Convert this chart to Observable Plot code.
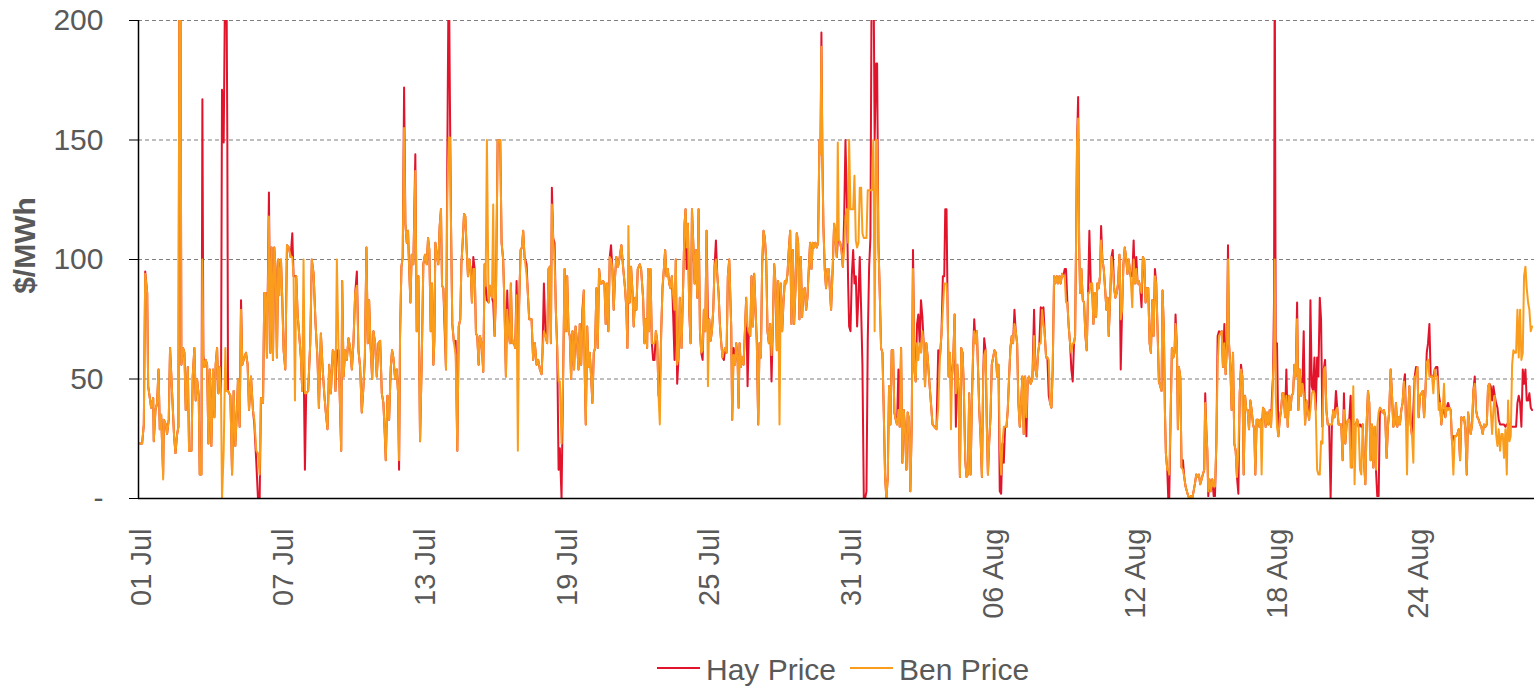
<!DOCTYPE html>
<html>
<head>
<meta charset="utf-8">
<script src="https://cdn.jsdelivr.net/npm/d3@7"></script>
<script src="https://cdn.jsdelivr.net/npm/@observablehq/plot@0.6"></script>
<style>
  html, body { margin: 0; padding: 0; background: #fff; }
  body { width: 1534px; height: 688px; position: relative; overflow: hidden; font-family: "Liberation Sans", Arial, sans-serif; }
  #chart { position: absolute; left: 0; top: 0; }
  #legend { position: absolute; left: 657px; top: 652px; display: flex; align-items: center; font-size: 30px; color: #595959; line-height: 36px; white-space: nowrap; }
  #legend .item { display: flex; align-items: center; margin-right: 14px; }
  #legend .sw { display: inline-block; width: 43px; height: 2px; margin-right: 6px; position: relative; top: -2px; }
</style>
</head>
<body>
<div id="chart"></div>
<div id="legend"></div>
<script>
// ---- Data (hours since 01 Jul 00:00, prices in $/MWh) ----
const startDate = "2019-07-01T00:00:00Z";
const endDate = "2019-08-29T00:00:00Z";
const hours = [
0.3,3.7,5.4,6.8,8.8,9.8,11.5,12.8,14.9,15.5,17.2,18.9,20.3,21.6,23,25,25.7,27.7,29,30.7,32,34.1,35.1,36.1,37.5,39.2,40.5,41.5,42.5,43.5,45.2,46.6,47.9,50,51.3,53.7,55,56.7,58,59.4,61.1,62.1,63.8,64.8,65.8,66.9,68.2,69.6,70.9,72.3,73.9,75.6,77,78.3,79.7,81,82.4,83.7,84.7,86.4,88.1,89.1,90.1,90.8,93.2,94.9,96.5,98.2,99.9,100.9,102.6,104,105.3,107.3,109,110.7,112.1,114.1,116.1,117.5,119.5,121.2,122.9,124.2,126.3,127.6,129,130.3,132.3,133.7,135,136.4,137.7,139.1,140.4,141.8,143.1,144.5,145.8,147.2,148.9,150.6,152.6,154.3,156,157.3,158.7,160,161.4,163.1,164.7,166.1,167.4,168.8,170.1,172.1,174.2,175.8,177.6,179.6,181.6,183,185,186.7,188.4,190,191.7,193.4,195.1,197.1,198.5,199.8,201.2,202.9,
205.6,206.6,208,209.6,211.3,213,214.7,216.4,218,219.8,221.5,223.1,224.8,226.5,228.2,229.6,231.2,232.6,233.9,235.3,237,238.3,240,241.7,243.4,245.1,246.8,248.4,249.8,250.8,252.5,254.2,255.9,257.2,258.5,260.3,262,263.3,264.3,265.3,266.7,268,269.4,270.7,272.1,273.4,274.4,275.8,277.1,278.8,280.8,282.2,283.9,285.6,287.3,288.9,290.6,292.4,293.7,295,296.4,297.7,299.1,300.1,301.1,302.5,304.1,305.5,306.8,307.9,309.2,310.6,311.9,313.2,314.7,315.9,317,318.3,320,321.7,323.4,324.8,326.4,327.5,328.8,330.2,331.5,332.9,334.2,335.5,336.9,338.2,339.6,341,342.3,343.6,345,346.3,348,349.7,351.1,352.1,353.4,355.1,356.5,358.5,359.8,361.2,362.6,364.3,365.6,366.9,368.3,369.9,371.3,372.7,374,375.4,376.7,377.7,379.1,380.4,382.1,383.5,384.8,386.2,387.6,388.9,390.2,391.6,393.6,394.9,396.3,
398.7,400.3,402,403.8,405.4,407.1,408.8,409.8,411.2,412.9,414.5,415.9,417.2,418.3,419.3,420.6,422,423.3,424.7,426.1,427.4,429.1,430.7,432.2,433.5,434.8,436.2,437.5,438.8,440.2,441.8,443.3,444.9,446.3,447.6,449,450.3,451.7,452.7,453.7,455.1,456.4,457.7,459.1,460.4,461.8,463.1,464.5,465.8,467.2,468.6,469.9,471.2,472.6,473.9,475.3,476.6,478,479.3,480.7,482,483.4,484.7,486.4,488.1,489.8,491.5,493.5,494.9,495.9,496.9,498.3,499.6,501,502.3,503.7,505,506.4,508.4,509.8,511.8,513.2,514.5,515.9,516.9,517.9,519.3,520.7,522,523.4,524.8,526.1,527.5,528.8,530.2,531.5,532.9,534.2,535.6,536.9,538.3,539.6,541,542.3,543.7,545,546.4,547.8,549.1,550.8,552.5,553.9,554.9,555.9,557.3,558.6,560,561.4,562.7,564.1,565.4,566.8,568.1,569.5,570.8,572.2,573.5,574.9,576.2,577.6,578.9,580.3,581.6,583,584.3,585.7,587,588.4,589.7,591.1,592.4,593.8,595.1,596.5,597.8,599.2,
601.2,602.2,603.6,605,606.3,607.7,608.7,609.7,611,612.4,613.7,615.1,616.4,617.8,619.1,620.5,621.8,623.2,624.5,625.9,627.2,628.6,629.9,631.3,632.6,634,635.3,636.7,638,639.4,640.7,642.1,643.4,644.8,646.1,647.5,648.8,650.2,651.5,652.9,654.2,655.6,656.9,658.3,659.6,661,662.3,663.7,665,666.4,667.7,669.1,670.4,671.8,673.1,674.5,675.8,677.2,678.5,679.9,681.2,682.6,683.9,685.3,686.6,688,689.3,690.7,691.7,692.7,693.7,694.7,696.1,697.4,698.8,700.1,701.5,702.5,704.2,705.6,706.9,708.3,709.3,710.4,711.7,713.1,714.4,715.8,717.1,718.5,719.8,720.8,722.2,723.5,724.9,726.2,727.6,728.9,730.3,731.6,733,734.3,735.7,737,738.4,739.7,741.1,742.4,743.8,745.4,746.7,748.2,749.2,750.5,751.9,753.2,754.6,755.9,757.3,758.6,760,761.3,762.7,764,765.4,766.7,768.1,769.4,770.8,772.1,773.5,774.8,776.2,777.5,778.9,780.2,781.6,782.9,784.3,785.6,787,788.3,789.7,791,792.4,793.7,795.1,796.4,797.8,799.1,800.5,801.8,
805.4,807.4,809.4,811.2,812.9,814.5,815.9,817.3,818.3,819.6,820.7,821.7,823.1,824.1,825.1,826.4,827.8,829.1,830.5,831.8,833.2,834.5,835.9,837.2,838.6,839.9,841.3,842.6,844,845.3,846.7,847.7,849.1,850.4,851.8,852.8,854.1,855.5,856.8,857.8,859.2,860.5,861.6,862.8,864.2,865.5,866.9,868.2,869.6,870.9,872.3,873.6,875,876.3,877.7,879,880.4,881.7,883.1,884.4,885.8,887.1,888.5,889.8,891.2,892.5,893.9,895.2,896.6,897.9,899.3,900.6,902,903.3,905,906.7,908.4,909.8,911.1,912.5,913.8,915.2,916.5,917.9,919.2,920.6,921.9,923.3,924.6,926,927.3,928.7,930,931.4,932.7,934.1,935.4,936.8,938.1,939.5,940.8,942.2,943.5,944.9,946.2,947.6,948.9,950,951,952,953.1,954.1,955.1,956.4,957.8,959.1,960.5,961.8,963.2,964.5,965.9,967.2,968.6,969.9,971.3,972.6,974,975.3,976.4,977.7,979.1,980.4,981.8,983.1,984.1,985.5,986.9,988.2,989.6,990.9,992.3,993.6,995,996.3,997.7,999,1000.4,1001.7,1003.1,1004.4,
1006.3,1008,1009.4,1010.7,1012.1,1013.4,1014.7,1016.1,1017.4,1018.8,1020.1,1021.5,1022.8,1024.2,1025.6,1026.9,1028.3,1029.6,1031,1032.3,1033.7,1035,1036.4,1037.7,1038.7,1040.1,1041.1,1042.1,1043.5,1044.5,1045.5,1046.9,1048.2,1049.6,1050.9,1051.9,1053.3,1054.3,1055.3,1056.7,1058,1059.4,1060.7,1062.1,1063.4,1064.8,1066.1,1067.5,1068.8,1070.2,1071.5,1072.9,1074.2,1075.6,1076.9,1078.3,1079.6,1081,1082,1083.1,1084.1,1085.1,1086.4,1087.8,1089.2,1090.6,1091.9,1093.3,1094.6,1096,1097.3,1098.7,1100,1101.4,1102.7,1104.1,1105.1,1106.1,1107.5,1108.8,1110.2,1111.5,1112.9,1114.2,1115.6,1117,1118.3,1119.7,1121,1122.4,1123.7,1125.1,1126.4,1127.8,1129.1,1130.5,1131.8,1132.8,1134.2,1135.5,1136.9,1138.2,1139.2,1140.6,1142,1143.3,1144.7,1146,1147.4,1148.7,1149.8,1150.8,1151.8,1152.5,1153.5,1154.8,1156.2,1157.6,1158.9,1160.3,1161.6,1163,1164.3,1165.7,1167,1168.4,1169.7,1171.1,1172.5,1173.8,1175.2,1176.5,1177.9,1179.2,1180.6,1181.9,1183.3,1184.6,1186,1187.4,1188.7,1190.1,1191.4,1192.8,1194.1,1195.5,1196.8,1198.2,1199.5,1200.9,1202.2,1203.6,1204.9,1206.3,1207.7,
1209.2,1210.5,1211.9,1213.2,1214.6,1215.9,1217.3,1218.6,1220,1221.4,1222.7,1224.1,1225.4,1226.8,1228.1,1229.5,1230.8,1232.2,1233.5,1234.9,1236.2,1237.6,1239,1240.3,1241.7,1243,1244.4,1245.7,1247.1,1248.4,1249.8,1251.1,1252.5,1253.8,1255.2,1256.5,1257.9,1259.2,1260.6,1261.9,1263.3,1264.6,1266,1267.3,1268.7,1270.1,1271.4,1272.8,1274.1,1275.5,1276.8,1278.2,1279.5,1280.9,1282.2,1283.6,1284.6,1285.7,1286.7,1287.7,1289.1,1290.4,1291.8,1293.1,1294.5,1295.8,1297.2,1298.5,1299.9,1301.3,1302.6,1304,1305.3,1306.7,1308,1309.4,1310.7,1312.1,1313.4,1314.8,1316.1,1317.5,1318.8,1320.2,1321.5,1322.9,1324.2,1325.6,1326.9,1328.3,1329.7,1331,1332.4,1333.7,1335.1,1336.4,1337.8,1339.1,1340.5,1341.8,1343.2,1344.5,1345.9,1347.3,1348.6,1350,1351.3,1352.7,1354,1355.4,1356.7,1358.1,1359.4,1360.8,1362.1,1363.5,1364.8,1366.2,1367.6,1368.9,1370.3,1371.6,1373,1374.3,1375.7,1377,1378.4,1379.7,1381.1,1382.4,1383.8,1385.1,1386.5,1387.9,1389.2,1390.6,1391.9,1393.3,1394.6,1396,1397.3,1398.7,1400,1401.4,1402.7,1404.1,1405.4,1406.8,1408.1,1409.5,1410.8,1412.2,1413.5
];
const hay = [
23,23,31,95,86,47,42,38,42,24,37,40,54,29,35,10,33,31,27,33,63,44,35,26,19,27,30,230,230,56,63,61,37,55,20,20,51,63,41,50,43,10,10,167,60,55,58,56,23,54,22,54,34,56,63,44,55,44,171,149,230,230,150,45,43,10,45,22,37,50,30,83,56,59,61,56,37,51,37,31,15,0,0,42,40,86,86,59,128,61,105,58,105,96,59,100,90,100,84,62,54,106,105,101,111,93,93,93,77,68,59,45,60,12,44,45,65,100,94,73,58,38,69,55,44,36,29,56,44,62,61,45,62,62,
20,91,51,62,58,67,63,54,65,86,95,62,55,36,47,59,105,65,83,65,50,70,65,51,65,66,44,40,27,16,43,33,55,62,59,50,54,44,12,68,97,101,172,115,107,112,98,82,102,98,144,70,93,24,58,98,102,98,109,104,70,90,56,66,107,102,98,114,121,89,88,70,54,140,230,165,114,73,65,66,20,72,75,98,107,119,118,104,93,100,96,82,101,96,69,68,56,68,65,53,98,89,83,82,89,84,82,68,86,150,149,150,107,100,79,51,87,70,65,90,65,66,63,91,65,83,104,105,112,101,98,86,75,
75,58,65,56,58,54,52,61,90,68,65,96,97,65,130,109,107,79,63,12,21,0,51,96,70,93,70,68,50,70,54,72,65,54,73,56,79,87,51,31,72,55,61,51,40,61,63,88,63,96,90,90,91,90,73,90,70,101,106,96,79,93,101,97,101,106,97,88,79,63,90,82,97,87,72,84,79,96,98,96,84,65,75,63,96,70,96,65,58,58,70,66,43,45,70,88,96,104,93,96,90,88,93,77,58,100,48,59,84,63,90,115,121,96,115,79,65,121,107,90,104,84,121,70,61,58,79,70,112,75,75,66,70,79,97,108,94,86,73,65,59,58,63,61,93,100,
72,33,63,56,65,58,38,65,55,59,56,70,84,47,70,68,93,72,94,79,65,31,65,59,98,112,109,100,70,65,73,49,72,98,90,62,91,65,90,70,82,91,90,94,104,112,73,104,73,88,111,107,75,101,76,87,88,79,84,96,107,96,107,105,107,105,107,150,144,195,143,114,96,88,96,96,86,79,97,115,109,101,108,108,107,104,97,118,150,125,90,72,70,93,104,90,93,72,85,101,79,56,0,0,3,66,97,109,230,230,150,182,182,107,86,63,61,37,9,0,9,47,31,62,62,36,33,31,54,30,63,15,37,29,12,36,33,3,31,104,54,49,73,77,65,83,76,65,47,65,59,51,
31,30,29,62,59,69,93,93,121,121,80,51,61,45,51,58,77,30,56,44,9,63,61,45,16,9,10,44,10,40,63,75,65,70,51,37,26,9,51,67,62,30,10,23,34,56,59,62,61,51,56,3,2,23,15,30,30,37,51,63,68,65,79,70,65,40,30,40,51,27,51,26,50,51,48,50,79,54,51,61,65,80,79,80,69,59,59,43,40,38,54,93,90,93,90,93,90,94,93,96,96,82,72,65,54,49,65,68,107,149,168,107,86,96,83,82,68,62,86,112,90,90,73,86,76,90,88,93,114,100,96,88,79,84,68,83,101,104,88,84,86,90,102,54,79,98,105,101,94,100,
93,93,108,90,101,90,91,88,80,101,100,82,88,88,65,61,83,68,96,90,70,49,47,45,87,70,37,19,12,0,0,34,63,59,61,77,63,29,55,51,13,16,9,5,3,1,0,1,0,3,6,10,9,10,6,8,10,12,44,29,20,1,8,3,8,1,1,23,68,70,69,70,55,73,52,65,106,65,55,37,61,23,20,9,2,44,56,51,10,43,37,37,29,41,37,31,29,10,33,33,30,33,27,38,37,30,36,31,37,30,44,51,83,230,65,65,26,33,37,44,44,34,54,30,43,37,43,44,56,51,82,37,54,43,48,70,31,41,37,33,83,47,45,59,37,59,51,84,75,30,54,58,37,31,31,
0,31,37,34,45,38,31,31,31,16,44,23,31,33,33,43,13,31,31,31,33,30,31,30,31,16,6,31,45,40,16,31,13,30,12,1,1,38,37,36,37,34,17,30,37,54,44,30,31,40,30,34,31,37,40,49,52,31,31,33,47,31,26,37,51,55,55,34,43,44,45,34,44,61,65,73,51,51,51,54,55,55,44,40,31,37,37,34,38,40,38,37,23,26,26,26,27,29,16,34,33,34,29,10,36,31,27,31,45,51,37,34,33,31,30,27,31,30,31,47,48,47,41,47,43,40,38,33,31,31,31,31,30,31,30,31,30,30,30,30,30,40,43,40,30,54,48,54,41,41,44,38,37
];
const ben = [
23,23,31,94,86,47,42,38,42,24,37,40,54,29,35,8,33,31,27,33,63,44,35,26,19,27,30,230,230,56,63,61,37,55,20,20,51,63,41,50,43,10,10,100,58,55,58,56,23,54,22,54,34,56,63,44,55,44,0,20,63,45,45,45,43,10,45,22,37,50,30,79,56,59,61,56,37,51,37,33,20,19,10,42,40,86,86,59,118,61,105,58,105,96,59,100,85,100,84,62,54,106,105,101,101,93,41,93,77,68,59,45,100,44,44,45,65,100,94,73,58,38,69,55,44,36,29,56,44,62,61,45,100,62,
20,91,51,62,58,67,63,54,65,86,89,62,55,36,47,59,105,65,83,65,50,70,65,51,65,66,44,40,27,16,43,33,55,62,59,50,54,44,16,68,97,101,155,115,107,112,98,82,102,98,137,70,93,24,58,98,102,98,109,104,70,90,56,66,107,102,98,114,121,89,88,75,54,126,151,151,114,73,65,60,20,72,75,98,107,119,118,104,93,100,96,82,96,96,69,68,56,68,65,53,98,89,150,82,89,84,123,68,86,150,149,150,107,100,79,51,79,70,65,90,65,66,63,85,20,83,104,105,112,101,94,86,75,
75,58,65,56,58,54,52,61,70,68,65,96,97,65,123,109,100,79,63,49,49,23,51,96,70,93,70,68,50,70,54,72,65,54,73,56,75,87,51,31,72,55,61,51,40,61,63,88,63,96,90,90,91,90,73,90,70,101,100,96,79,93,101,97,101,106,97,88,79,63,114,82,97,87,72,84,79,96,98,96,84,65,75,63,96,70,96,65,65,65,70,66,43,31,70,88,96,104,93,96,90,88,93,85,79,100,56,59,84,63,90,115,121,105,115,79,65,121,107,90,104,84,121,70,61,62,79,70,112,47,75,66,70,79,97,100,94,86,73,65,59,62,63,61,93,100,
72,33,60,56,65,58,38,65,55,59,56,70,84,72,70,68,93,72,94,79,65,31,65,59,98,112,109,100,70,65,73,60,72,98,90,62,91,31,90,70,82,91,90,94,104,112,73,104,73,88,111,107,75,101,76,87,88,79,84,96,107,96,107,105,107,105,107,150,144,189,143,114,96,88,96,96,86,79,97,115,109,101,149,108,107,104,97,104,118,121,107,150,121,121,121,135,108,105,107,130,130,111,109,109,109,129,129,129,129,150,70,150,150,107,86,63,61,37,9,0,9,47,31,62,62,36,33,31,37,30,63,15,37,29,12,36,33,3,31,96,54,49,65,58,65,61,70,65,47,65,59,51,
31,30,29,38,59,69,79,90,90,90,80,51,61,29,51,58,77,44,56,44,9,63,61,45,16,9,10,44,10,40,63,70,65,70,51,37,26,9,51,60,62,30,10,23,34,56,59,62,61,51,56,23,10,23,30,30,30,37,51,63,68,65,73,70,65,40,30,40,51,27,51,34,50,51,48,50,68,54,51,61,65,65,79,73,69,59,59,58,40,38,54,93,90,93,90,93,90,94,93,93,82,82,72,65,61,65,65,68,107,149,159,107,86,96,83,82,68,62,86,86,90,90,73,86,76,90,88,93,108,100,96,88,79,84,68,83,101,96,88,84,86,90,102,75,79,98,105,101,94,100,
93,80,100,90,96,90,91,88,86,101,100,82,88,88,65,61,83,68,93,90,70,49,47,45,87,70,37,19,12,12,10,34,63,59,61,73,63,29,55,51,13,12,9,5,3,1,0,1,0,3,6,10,9,10,6,8,10,12,40,29,20,3,8,3,8,5,5,23,56,68,69,70,55,65,52,65,100,65,55,37,61,23,20,9,19,44,54,51,10,43,37,37,29,41,37,31,29,10,33,33,30,33,10,38,37,30,36,31,37,30,37,51,60,100,44,30,26,33,37,44,44,34,43,30,43,37,43,44,56,51,75,37,54,43,48,44,31,41,37,33,37,44,45,44,37,12,10,10,24,23,54,55,37,31,31,
31,31,37,34,37,38,31,31,31,16,37,23,31,33,33,13,13,47,6,31,33,30,12,10,31,16,6,31,45,40,16,31,13,30,12,30,36,38,37,36,37,34,17,30,37,54,44,30,31,40,30,34,31,37,40,49,45,31,10,33,47,31,26,15,51,51,55,34,43,44,45,34,44,57,58,51,51,51,44,54,51,51,37,40,31,37,48,34,38,37,38,37,23,10,26,26,27,29,16,34,33,34,29,10,36,31,27,31,45,48,37,34,33,31,30,27,31,30,31,47,48,37,27,37,43,27,22,29,20,27,27,17,29,10,41,24,26,56,62,61,61,79,59,79,58,61,93,97,88,82,79,70,72
];
const seriesNames = ["Hay Price", "Ben Price"];
const seriesColors = ["#e1142c", "#fb9d1c"];
const tickDates = ["2019-07-01","2019-07-07","2019-07-13","2019-07-19","2019-07-25","2019-07-31","2019-08-06","2019-08-12","2019-08-18","2019-08-24"];
const tickLabels = ["01 Jul","07 Jul","13 Jul","19 Jul","25 Jul","31 Jul","06 Aug","12 Aug","18 Aug","24 Aug"];
const yTicks = [0, 50, 100, 150, 200];
const yTickLabels = ["-", "50", "100", "150", "200"];
const gridValues = [50, 100, 150, 200];
const yTitle = "$/MWh";

// ---- Build table ----
const t0 = new Date(startDate).getTime();
const n = Math.min(hours.length, hay.length, ben.length);
const rows = [];
for (let i = 0; i < n; i++) rows.push({date: new Date(t0 + hours[i] * 3600e3), hay: hay[i], ben: ben[i]});
const tickTimes = tickDates.map(d => new Date(d + "T00:00:00Z"));
const tickKeys = tickTimes.map(d => +d);
const grey = "#595959";
const font = "Liberation Sans, Arial, sans-serif";

const chart = Plot.plot({
  width: 1534,
  height: 622,
  marginLeft: 138,
  marginRight: 0,
  marginTop: 20,
  marginBottom: 124,
  style: {fontFamily: font, background: "#fff", color: grey, overflow: "visible"},
  x: {type: "utc", domain: [new Date(startDate), new Date(endDate)]},
  y: {domain: [0, 200]},
  marks: [
    Plot.ruleY(gridValues, {stroke: "#7f7f7f", strokeWidth: 1.2, strokeDasharray: "4,3"}),
    Plot.lineY(rows, {x: "date", y: "hay", stroke: seriesColors[0], strokeWidth: 2, clip: true, curve: "linear"}),
    Plot.lineY(rows, {x: "date", y: "ben", stroke: seriesColors[1], strokeWidth: 2, clip: true, curve: "linear"}),
    Plot.ruleY([0], {stroke: "#000", strokeWidth: 1.5}),
    Plot.ruleX([new Date(startDate)], {stroke: "#000", strokeWidth: 1.5}),
    Plot.axisY(yTicks, {
      tickFormat: d => yTickLabels[yTicks.indexOf(d)],
      tickSize: 9, tickPadding: 26, stroke: "#000", fill: grey,
      fontSize: 30, label: null
    }),
    Plot.axisX(tickTimes, {
      tickFormat: d => tickLabels[tickKeys.indexOf(+d)],
      tickRotate: -90, tickSize: 0, tickPadding: 30, fill: grey,
      fontSize: 29, label: null, dx: 3
    }),
    Plot.text([yTitle], {
      frameAnchor: "left", textAnchor: "middle", rotate: -90, dx: -113, dy: -14,
      fontWeight: "bold", fontSize: 30, fill: grey
    })
  ]
});
document.getElementById("chart").appendChild(chart);

// ---- Legend ----
const legend = document.getElementById("legend");
seriesNames.forEach((name, i) => {
  const item = document.createElement("span");
  item.className = "item";
  const sw = document.createElement("span");
  sw.className = "sw";
  sw.style.background = seriesColors[i];
  const label = document.createElement("span");
  label.textContent = name;
  item.appendChild(sw);
  item.appendChild(label);
  legend.appendChild(item);
});
</script>
</body>
</html>
